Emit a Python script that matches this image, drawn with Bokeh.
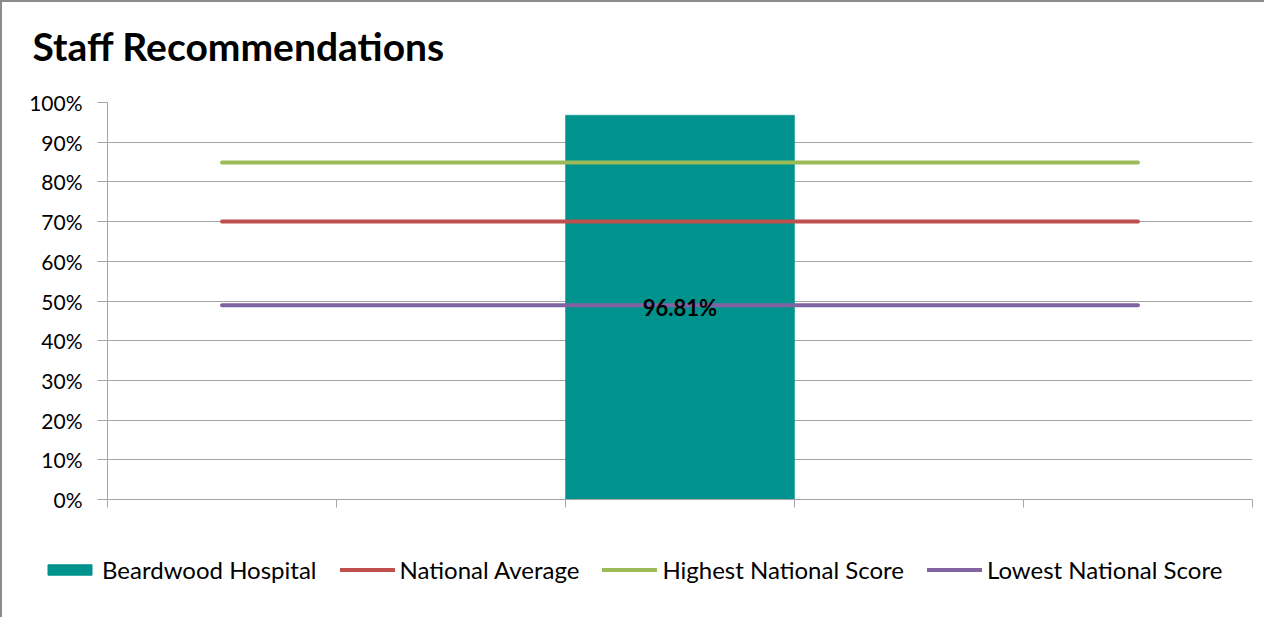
from bokeh.plotting import figure
from bokeh.layouts import column
from bokeh.models import (ColumnDataSource, FixedTicker, Legend, LegendItem, Title,
                          NumeralTickFormatter, Range1d)
from bokeh.embed import file_html
from bokeh.resources import INLINE
from bokeh.core.properties import value

# ---- data ----
categories = ["", "", "", "", ""]
positions = [0.5, 1.5, 2.5, 3.5, 4.5]
hospital = [None, None, 0.9681, None, None]
national_average = [0.70, 0.70, 0.70, 0.70, 0.70]
highest_score = [0.849, 0.849, 0.849, 0.849, 0.849]
lowest_score = [0.489, 0.489, 0.489, 0.489, 0.489]
y_ticks = [0, 0.1, 0.2, 0.3, 0.4, 0.5, 0.6, 0.7, 0.8, 0.9, 1.0]
series_names = ["Beardwood Hospital", "National Average",
                "Highest National Score", "Lowest National Score"]

FONT = "Lato"
TEAL = "#00938D"
RED = "#C0504D"
GREEN = "#9BBB59"
PURPLE = "#8064A2"
GRID = "#A6A6A6"

p = figure(width=1262, height=527, output_backend="svg", toolbar_location=None,
           x_range=Range1d(0, 5), y_range=Range1d(0, 1.0),
           min_border_left=105, min_border_right=12, min_border_top=100,
           min_border_bottom=30, title_location=None)
p.outline_line_color = None
p.background_fill_color = "white"
p.border_fill_color = "white"

# spacer between title and plot area, then the title itself
p.add_layout(Title(text=" ", text_font_size="15px"), "above")
p.add_layout(Title(text="Staff Recommendations", text_font=FONT, text_font_size="39px",
                   text_font_style="bold", text_color="black", align="left",
                   offset=-75), "above")

# bar
bar_src = ColumnDataSource(dict(x=[positions[i] for i in range(5) if hospital[i] is not None],
                                top=[h for h in hospital if h is not None]))
p.vbar(x="x", top="top", width=1.0, bottom=0, source=bar_src,
       fill_color=TEAL, line_color=TEAL, line_width=0.5)

# lines
p.line(positions, national_average, line_color=RED, line_width=4, line_cap="round")
p.line(positions, highest_score, line_color=GREEN, line_width=4, line_cap="round")
p.line(positions, lowest_score, line_color=PURPLE, line_width=4, line_cap="round")

# data label
lab_src = ColumnDataSource(dict(x=bar_src.data["x"], y=[t / 2 for t in bar_src.data["top"]],
                                text=["{:.2f}%".format(t * 100) for t in bar_src.data["top"]]))
p.text(x="x", y="y", text="text", source=lab_src, text_font=value(FONT),
       text_font_size="22px", text_font_style="bold", text_align="center",
       text_baseline="middle", text_color="black")

# axes
p.yaxis.ticker = FixedTicker(ticks=y_ticks)
p.yaxis.formatter = NumeralTickFormatter(format="0%")
p.yaxis.major_label_text_font = FONT
p.yaxis.major_label_text_font_size = "21px"
p.yaxis.major_label_text_color = "black"
p.yaxis.axis_line_color = GRID
p.yaxis.major_tick_line_color = GRID
p.yaxis.major_tick_out = 10
p.yaxis.major_tick_in = 0
p.yaxis.minor_tick_line_color = None
p.yaxis.major_label_standoff = 15

p.xaxis.ticker = FixedTicker(ticks=[0, 1, 2, 3, 4, 5])
p.xaxis.major_label_overrides = {i: "" for i in range(6)}
p.xaxis.major_label_text_font_size = "1px"
p.xaxis.axis_line_color = GRID
p.xaxis.major_tick_line_color = GRID
p.xaxis.major_tick_out = 8
p.xaxis.major_tick_in = 0
p.xaxis.minor_tick_line_color = None

p.xgrid.grid_line_color = None
p.ygrid.ticker = FixedTicker(ticks=y_ticks)
p.ygrid.grid_line_color = GRID
p.ygrid.grid_line_width = 1

# ---- legend strip (separate canvas so the legend is not clipped) ----
lg = figure(width=1262, height=88, output_backend="svg", toolbar_location=None,
            x_range=Range1d(10, 11), y_range=Range1d(10, 11), min_border=0,
            title_location=None)
if "frame_align" in lg.properties():
    lg.frame_align = False
    p.frame_align = False
lg.axis.visible = False
lg.grid.visible = False
lg.outline_line_color = None
lg.border_fill_color = "white"
lg.background_fill_color = "white"

# legend proxies: same data, but outside this strip's visible ranges
r_bar = lg.vbar(x="x", top="top", width=1.0, source=bar_src,
                fill_color=TEAL, line_color=TEAL)
r_avg = lg.line(positions, national_average, line_color=RED, line_width=4, line_cap="round")
r_hi = lg.line(positions, highest_score, line_color=GREEN, line_width=4, line_cap="round")
r_lo = lg.line(positions, lowest_score, line_color=PURPLE, line_width=4, line_cap="round")

legend = Legend(items=[LegendItem(label=n, renderers=[r])
                       for n, r in zip(series_names, [r_bar, r_avg, r_hi, r_lo])],
                orientation="horizontal", location=(40, 33))
legend.label_text_font = FONT
legend.label_text_font_size = "24px"
legend.label_text_color = "black"
legend.label_height = 24
legend.glyph_width = 55
legend.glyph_height = 13
legend.label_standoff = 5
legend.spacing = 23
legend.padding = 0
legend.margin = 0
legend.border_line_color = None
legend.background_fill_alpha = 0
lg.add_layout(legend, "center")

layout = column(p, lg, spacing=0,
                styles={"border-left": "2px solid #8C8C8C", "border-top": "2px solid #8C8C8C"})

open("out.html", "w").write(file_html(layout, INLINE))
